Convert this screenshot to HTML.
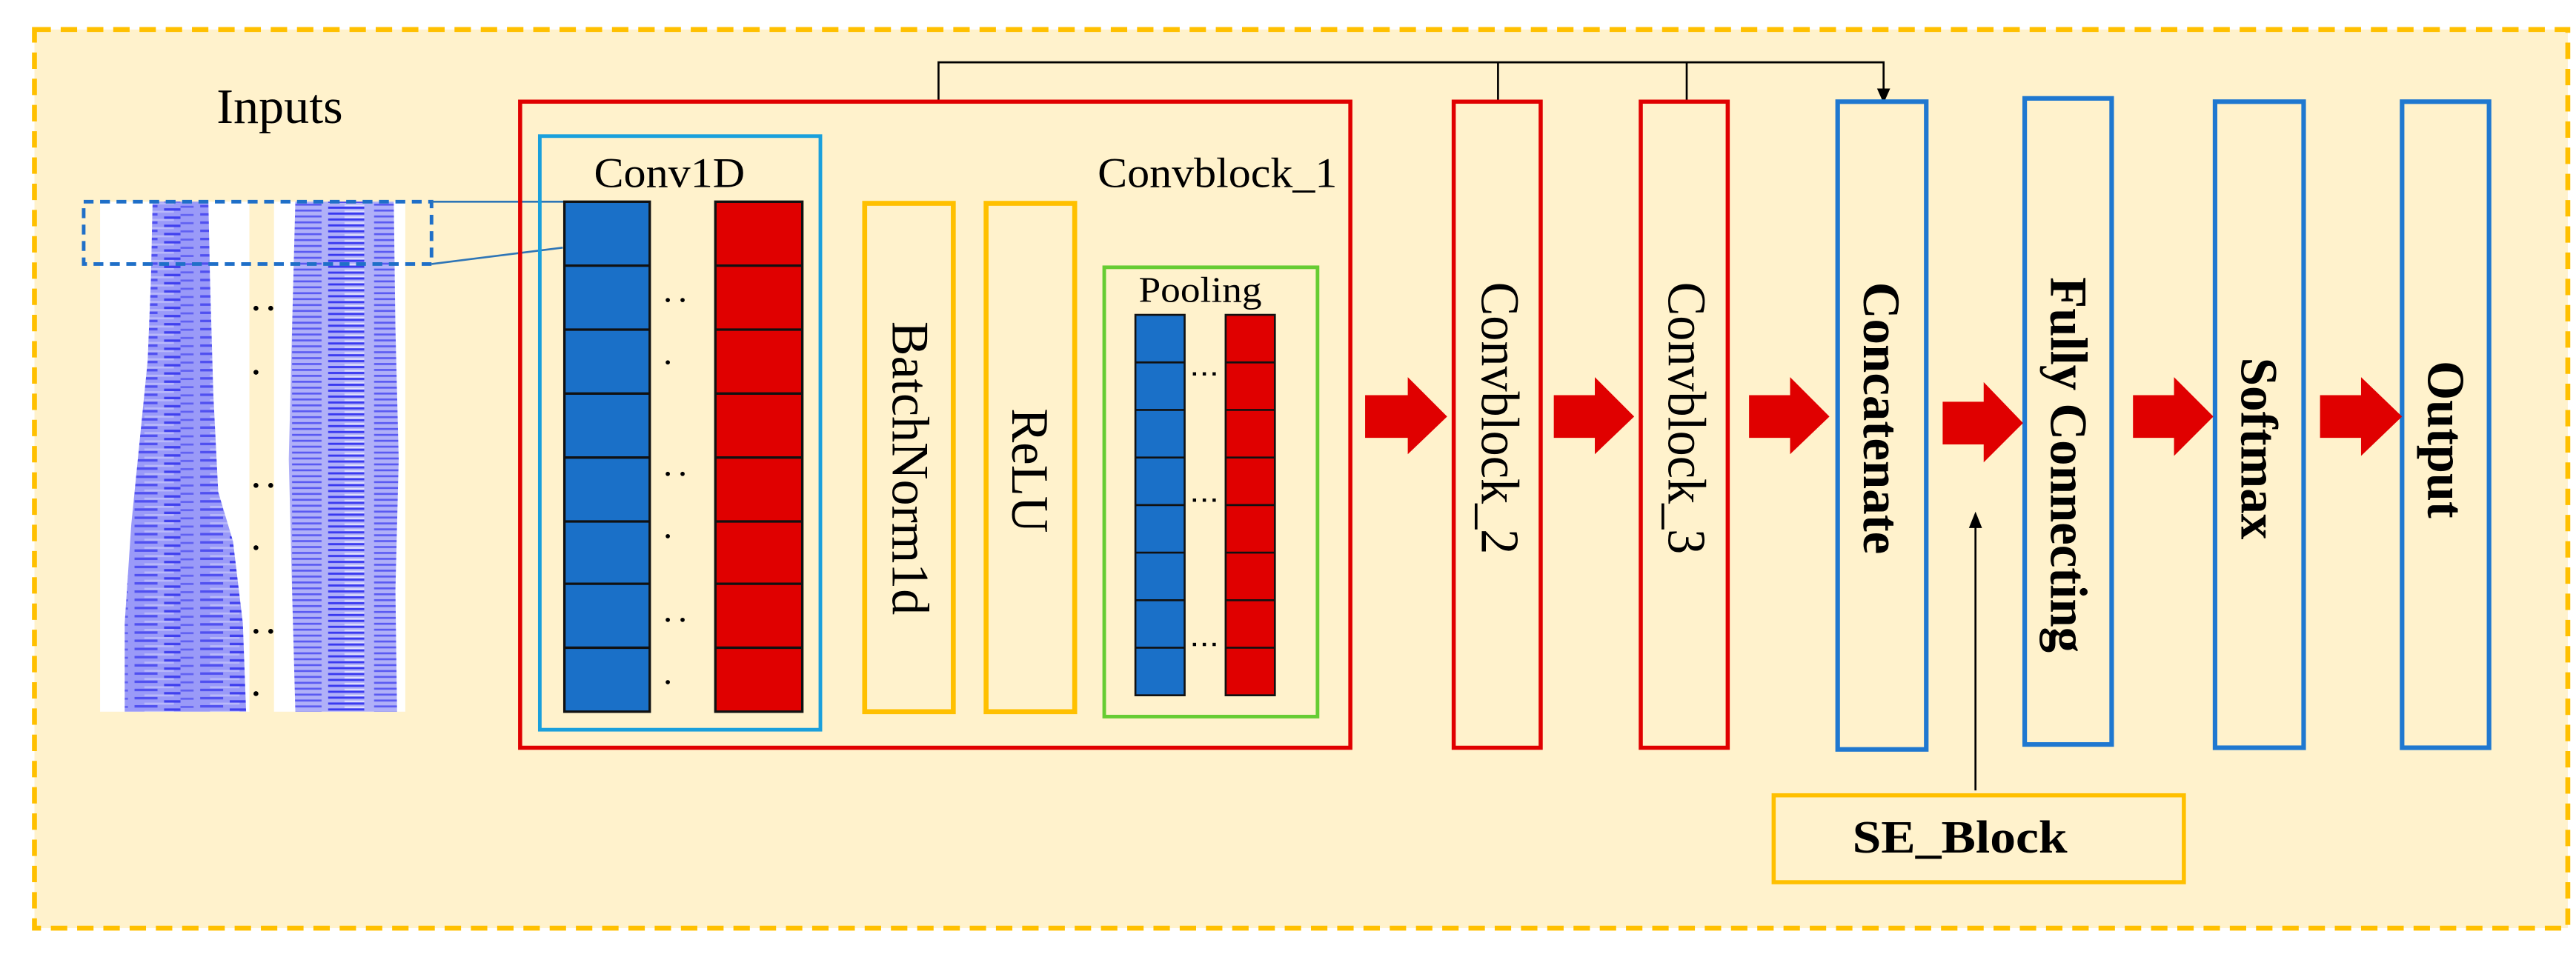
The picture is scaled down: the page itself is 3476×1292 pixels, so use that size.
<!DOCTYPE html>
<html><head><meta charset="utf-8"><style>html,body{margin:0;padding:0;background:#fff}svg{display:block}</style></head>
<body>
<svg width="3476" height="1292" viewBox="0 0 1570 583.6" preserveAspectRatio="none" xmlns="http://www.w3.org/2000/svg" font-family="'Liberation Serif', serif">
<defs>
<pattern id="w1" width="40" height="5" patternUnits="userSpaceOnUse">
<rect width="40" height="5" fill="#9a9af8"/>
<rect x="2" y="0" width="14" height="1.5" fill="#5050f0"/>
<rect x="20" y="2" width="10" height="1.5" fill="#4040ee"/>
<rect x="8" y="3.5" width="18" height="1.2" fill="#b8b8fa"/>
<rect x="30" y="0.5" width="8" height="1.2" fill="#6060f2"/>
</pattern>
<pattern id="w2" width="50" height="3.6" patternUnits="userSpaceOnUse">
<rect width="50" height="3.6" fill="#b0b0f8"/>
<rect x="0" y="0" width="22" height="1.3" fill="#3a3af0"/>
<rect x="28" y="1.8" width="18" height="1.2" fill="#5a5af2"/>
<rect x="10" y="2.4" width="12" height="1" fill="#ffffff" opacity="0.6"/>
</pattern>
<marker id="ah" markerWidth="8" markerHeight="8" refX="4" refY="7" orient="auto" markerUnits="userSpaceOnUse">
</marker>
</defs>
<rect x="0" y="0" width="1570" height="583.6" fill="#fff"/>
<rect x="21" y="18" width="1544" height="548" fill="#FFF2CC" stroke="#FFC000" stroke-width="3" stroke-dasharray="10,6"/>

<!-- Inputs -->
<text x="132" y="75" font-size="30" textLength="77" lengthAdjust="spacingAndGlyphs">Inputs</text>
<rect x="61" y="123" width="91" height="311" fill="#fff"/>
<rect x="167" y="123" width="80" height="311" fill="#fff"/>
<polygon points="93,123 127,123 128,170 130,240 133,300 142,330 148,380 150,434 76,434 76,380 80,320 84,280 90,220 92,170" fill="url(#w1)"/>
<polygon points="180,123 240,123 241,200 243,280 241,360 242,434 180,434 178,360 176,280 178,200" fill="url(#w2)"/>
<rect x="51" y="123" width="212" height="38" fill="none" stroke="#1F6FC8" stroke-width="2.2" stroke-dasharray="6,4"/>
<line x1="263" y1="123" x2="344" y2="123" stroke="#2E75B6" stroke-width="1.2"/>
<line x1="263" y1="161" x2="343" y2="151" stroke="#2E75B6" stroke-width="1.2"/>
<g fill="#000">
<circle cx="156" cy="188" r="1.5"/><circle cx="165" cy="188" r="1.5"/><circle cx="156" cy="227" r="1.5"/>
<circle cx="156" cy="296" r="1.5"/><circle cx="165" cy="296" r="1.5"/><circle cx="156" cy="334" r="1.5"/>
<circle cx="156" cy="385" r="1.5"/><circle cx="165" cy="385" r="1.5"/><circle cx="156" cy="423" r="1.5"/>
</g>

<!-- top connector -->
<polyline points="572,62 572,38 1148,38 1148,56" fill="none" stroke="#000" stroke-width="1.2"/>
<line x1="913" y1="38" x2="913" y2="62" stroke="#000" stroke-width="1.2"/>
<line x1="1028" y1="38" x2="1028" y2="62" stroke="#000" stroke-width="1.2"/>
<polygon points="1144,54 1152,54 1148,63" fill="#000"/>

<!-- Convblock_1 -->
<rect x="317" y="62" width="506" height="394" fill="none" stroke="#E00000" stroke-width="2.5"/>
<text x="669" y="114" font-size="26" textLength="146" lengthAdjust="spacingAndGlyphs">Convblock_1</text>
<rect x="329" y="83" width="171" height="362" fill="none" stroke="#1AA0DC" stroke-width="2.2"/>
<text x="362" y="114" font-size="26" textLength="92" lengthAdjust="spacingAndGlyphs">Conv1D</text>
<g stroke="#111" stroke-width="1.5">
<rect x="344" y="123" width="52" height="311" fill="#1A70C8"/>
<rect x="436" y="123" width="53" height="311" fill="#E00000"/>
<line x1="344" y1="162" x2="396" y2="162"/><line x1="344" y1="201" x2="396" y2="201"/><line x1="344" y1="240" x2="396" y2="240"/><line x1="344" y1="279" x2="396" y2="279"/><line x1="344" y1="318" x2="396" y2="318"/><line x1="344" y1="356" x2="396" y2="356"/><line x1="344" y1="395" x2="396" y2="395"/>
<line x1="436" y1="162" x2="489" y2="162"/><line x1="436" y1="201" x2="489" y2="201"/><line x1="436" y1="240" x2="489" y2="240"/><line x1="436" y1="279" x2="489" y2="279"/><line x1="436" y1="318" x2="489" y2="318"/><line x1="436" y1="356" x2="489" y2="356"/><line x1="436" y1="395" x2="489" y2="395"/>
</g>
<g fill="#000">
<circle cx="407" cy="183" r="1.3"/><circle cx="416" cy="183" r="1.3"/><circle cx="407" cy="221" r="1.3"/>
<circle cx="407" cy="289" r="1.3"/><circle cx="416" cy="289" r="1.3"/><circle cx="407" cy="327" r="1.3"/>
<circle cx="407" cy="378" r="1.3"/><circle cx="416" cy="378" r="1.3"/><circle cx="407" cy="416" r="1.3"/>
</g>
<rect x="527" y="124" width="54" height="310" fill="none" stroke="#FFC000" stroke-width="3"/>
<rect x="601" y="124" width="54" height="310" fill="none" stroke="#FFC000" stroke-width="3"/>
<text transform="translate(544,196) rotate(90)" font-size="32" textLength="179" lengthAdjust="spacingAndGlyphs">BatchNorm1d</text>
<text transform="translate(617,249) rotate(90)" font-size="32" textLength="76" lengthAdjust="spacingAndGlyphs">ReLU</text>
<rect x="673" y="163" width="130" height="274" fill="none" stroke="#66CC33" stroke-width="2.2"/>
<text x="694" y="184" font-size="22" textLength="75" lengthAdjust="spacingAndGlyphs">Pooling</text>
<g stroke="#111" stroke-width="1.2">
<rect x="692" y="192" width="30" height="232" fill="#1A70C8"/>
<rect x="747" y="192" width="30" height="232" fill="#E00000"/>
<line x1="692" y1="221" x2="722" y2="221"/><line x1="692" y1="250" x2="722" y2="250"/><line x1="692" y1="279" x2="722" y2="279"/><line x1="692" y1="308" x2="722" y2="308"/><line x1="692" y1="337" x2="722" y2="337"/><line x1="692" y1="366" x2="722" y2="366"/><line x1="692" y1="395" x2="722" y2="395"/>
<line x1="747" y1="221" x2="777" y2="221"/><line x1="747" y1="250" x2="777" y2="250"/><line x1="747" y1="279" x2="777" y2="279"/><line x1="747" y1="308" x2="777" y2="308"/><line x1="747" y1="337" x2="777" y2="337"/><line x1="747" y1="366" x2="777" y2="366"/><line x1="747" y1="395" x2="777" y2="395"/>
</g>
<g fill="#000">
<rect x="727" y="227" width="2" height="2"/><rect x="733" y="227" width="2" height="2"/><rect x="739" y="227" width="2" height="2"/>
<rect x="727" y="304" width="2" height="2"/><rect x="733" y="304" width="2" height="2"/><rect x="739" y="304" width="2" height="2"/>
<rect x="727" y="392" width="2" height="2"/><rect x="733" y="392" width="2" height="2"/><rect x="739" y="392" width="2" height="2"/>
</g>

<!-- Convblock 2/3 -->
<rect x="886" y="62" width="53" height="394" fill="none" stroke="#E00000" stroke-width="2.5"/>
<rect x="1000" y="62" width="53" height="394" fill="none" stroke="#E00000" stroke-width="2.5"/>
<text transform="translate(903,172) rotate(90)" font-size="33" textLength="166" lengthAdjust="spacingAndGlyphs">Convblock_2</text>
<text transform="translate(1017,172) rotate(90)" font-size="33" textLength="166" lengthAdjust="spacingAndGlyphs">Convblock_3</text>

<!-- blue boxes -->
<g fill="none" stroke="#1F78D0" stroke-width="2.8">
<rect x="1120" y="62" width="54" height="395"/>
<rect x="1234" y="60" width="53" height="394"/>
<rect x="1350" y="62" width="54" height="394"/>
<rect x="1464" y="62" width="53" height="394"/>
</g>
<g font-weight="bold">
<text transform="translate(1136,172) rotate(90)" font-size="32" textLength="166" lengthAdjust="spacingAndGlyphs">Concatenate</text>
<text transform="translate(1250,169) rotate(90)" font-size="32" textLength="229" lengthAdjust="spacingAndGlyphs">Fully Connecting</text>
<text transform="translate(1366,218) rotate(90)" font-size="32" textLength="111" lengthAdjust="spacingAndGlyphs">Softmax</text>
<text transform="translate(1480,220) rotate(90)" font-size="32" textLength="96" lengthAdjust="spacingAndGlyphs">Output</text>
</g>

<!-- red arrows -->
<g fill="#E00000">
<polygon points="832,241 858,241 858,230 882,254 858,277 858,267 832,267"/>
<polygon points="947,241 972,241 972,230 996,254 972,277 972,267 947,267"/>
<polygon points="1066,241 1091,241 1091,230 1115,254 1091,277 1091,267 1066,267"/>
<polygon points="1184,245 1209,245 1209,233 1233,258 1209,282 1209,271 1184,271"/>
<polygon points="1300,241 1325,241 1325,230 1349,254 1325,278 1325,267 1300,267"/>
<polygon points="1414,241 1439,241 1439,230 1464,254 1439,278 1439,267 1414,267"/>
</g>

<!-- SE block -->
<line x1="1204" y1="482" x2="1204" y2="320" stroke="#000" stroke-width="1.2"/>
<polygon points="1200,322 1208,322 1204,312" fill="#000"/>
<rect x="1081" y="485" width="250" height="53" fill="none" stroke="#FFC000" stroke-width="2.5"/>
<text x="1129" y="520" font-size="28" font-weight="bold" textLength="131" lengthAdjust="spacingAndGlyphs">SE_Block</text>
</svg>
</body></html>
